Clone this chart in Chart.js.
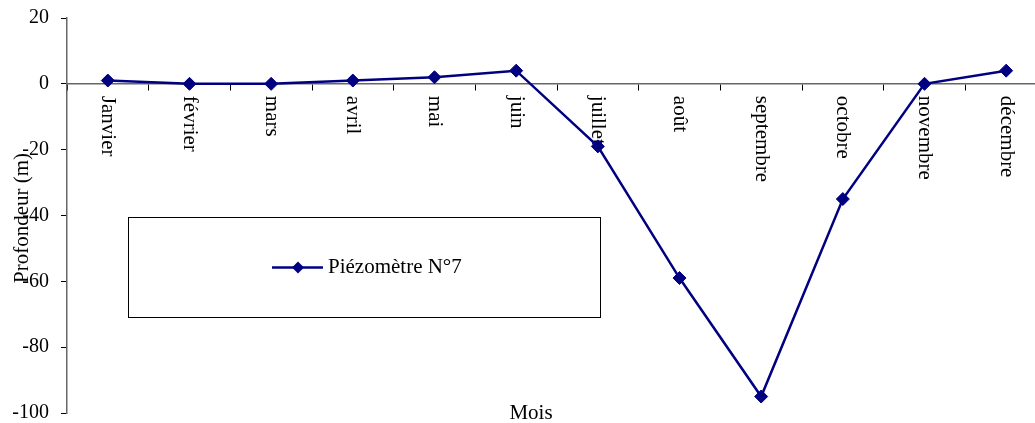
<!DOCTYPE html>
<html><head><meta charset="utf-8">
<script src="https://cdn.jsdelivr.net/npm/chart.js@4"></script>
<style>
html,body{margin:0;padding:0;background:#fff;overflow:hidden}
#wrap{width:1035px;height:423px;overflow:hidden;position:relative;background:#fff}
canvas{display:block}
</style>
</head><body>
<div id="wrap"><canvas id="c" width="1047" height="423"></canvas></div>
<script>
const months = ['Janvier','février','mars','avril','mai','juin','juillet','août','septembre','octobre','novembre','décembre'];
const depths = [1, 0, 0, 1, 2, 4, -19, -59, -95, -35, 0, 4];
const yTicks = [-100, -80, -60, -40, -20, 0, 20];
const seriesLabel = 'Piézomètre N°7';
const xTitle = 'Mois';
const yTitle = 'Profondeur (m)';

const SERIF = '"Liberation Serif", "Times New Roman", serif';
const NAVY = '#000080';

const decor = {
  id: 'decor',
  beforeDatasetsDraw(chart) {
    const ctx = chart.ctx, xs = chart.scales.x, ys = chart.scales.y;
    const y0 = ys.getPixelForValue(0);
    ctx.save();
    ctx.fillStyle = '#000';
    ctx.font = '21px ' + SERIF;
    months.forEach((m, i) => {
      ctx.save();
      ctx.translate(xs.getPixelForValue(i), y0 + 12);
      ctx.rotate(Math.PI / 2);
      ctx.textAlign = 'left';
      ctx.textBaseline = 'middle';
      ctx.fillText(m, 0, 0);
      ctx.restore();
    });
    ctx.restore();
  },
  afterDraw(chart) {
    const ctx = chart.ctx;
    ctx.save();
    ctx.fillStyle = '#000';
    ctx.font = '21px ' + SERIF;
    ctx.textAlign = 'center';
    ctx.textBaseline = 'alphabetic';
    ctx.fillText(xTitle, 531, 419);
    ctx.save();
    ctx.translate(22, 218);
    ctx.rotate(-Math.PI / 2);
    ctx.font = '21px ' + SERIF;
    ctx.textAlign = 'center';
    ctx.textBaseline = 'middle';
    ctx.fillText(yTitle, 0, 0);
    ctx.restore();
    ctx.fillStyle = '#fff';
    ctx.fillRect(128.5, 217.5, 472, 100);
    ctx.strokeStyle = '#000';
    ctx.lineWidth = 1;
    ctx.strokeRect(128.5, 217.5, 472, 100);
    ctx.strokeStyle = NAVY;
    ctx.lineWidth = 2.5;
    ctx.beginPath();
    ctx.moveTo(272, 267.5);
    ctx.lineTo(323, 267.5);
    ctx.stroke();
    ctx.fillStyle = NAVY;
    ctx.beginPath();
    const r = 6;
    ctx.moveTo(298 - r, 267.5);
    ctx.lineTo(298, 267.5 - r);
    ctx.lineTo(298 + r, 267.5);
    ctx.lineTo(298, 267.5 + r);
    ctx.closePath();
    ctx.fill();
    ctx.fillStyle = '#000';
    ctx.font = '21px ' + SERIF;
    ctx.textAlign = 'left';
    ctx.textBaseline = 'middle';
    ctx.fillText(chart.data.datasets[0].label, 328, 267);
    ctx.restore();
  }
};

new Chart(document.getElementById('c'), {
  type: 'line',
  data: {
    labels: months,
    datasets: [{
      label: seriesLabel,
      data: depths,
      borderColor: NAVY,
      backgroundColor: NAVY,
      borderWidth: 2.5,
      pointStyle: 'rectRot',
      pointRadius: 6.5,
      pointBackgroundColor: NAVY,
      pointBorderColor: NAVY,
      pointBorderWidth: 1,
      tension: 0,
      fill: false,
      clip: false
    }]
  },
  options: {
    responsive: false,
    maintainAspectRatio: false,
    devicePixelRatio: 1,
    animation: false,
    layout: { autoPadding: false, padding: { top: 18, bottom: 10, left: 0, right: 0 } },
    plugins: { legend: { display: false }, tooltip: { enabled: false } },
    scales: {
      x: {
        type: 'category',
        offset: true,
        position: { y: 0 },
        ticks: { display: false },
        grid: { offset: true, drawOnChartArea: false, drawTicks: true, tickLength: 6, color: '#000', lineWidth: 1 },
        border: { display: true, color: '#666', width: 1.5 }
      },
      y: {
        min: yTicks[0],
        max: yTicks[yTicks.length - 1],
        afterFit(scale) { scale.width = 67; scale.paddingTop = 0; scale.paddingBottom = 0; },
        afterBuildTicks(scale) { scale.ticks = yTicks.map(v => ({ value: v })); },
        ticks: { color: '#000', font: { family: SERIF, size: 20 }, padding: 12 },
        grid: { drawOnChartArea: false, drawTicks: true, tickLength: 6, color: '#000' },
        border: { display: true, color: '#666', width: 1.5 }
      }
    }
  },
  plugins: [decor]
});
</script>
</body></html>
